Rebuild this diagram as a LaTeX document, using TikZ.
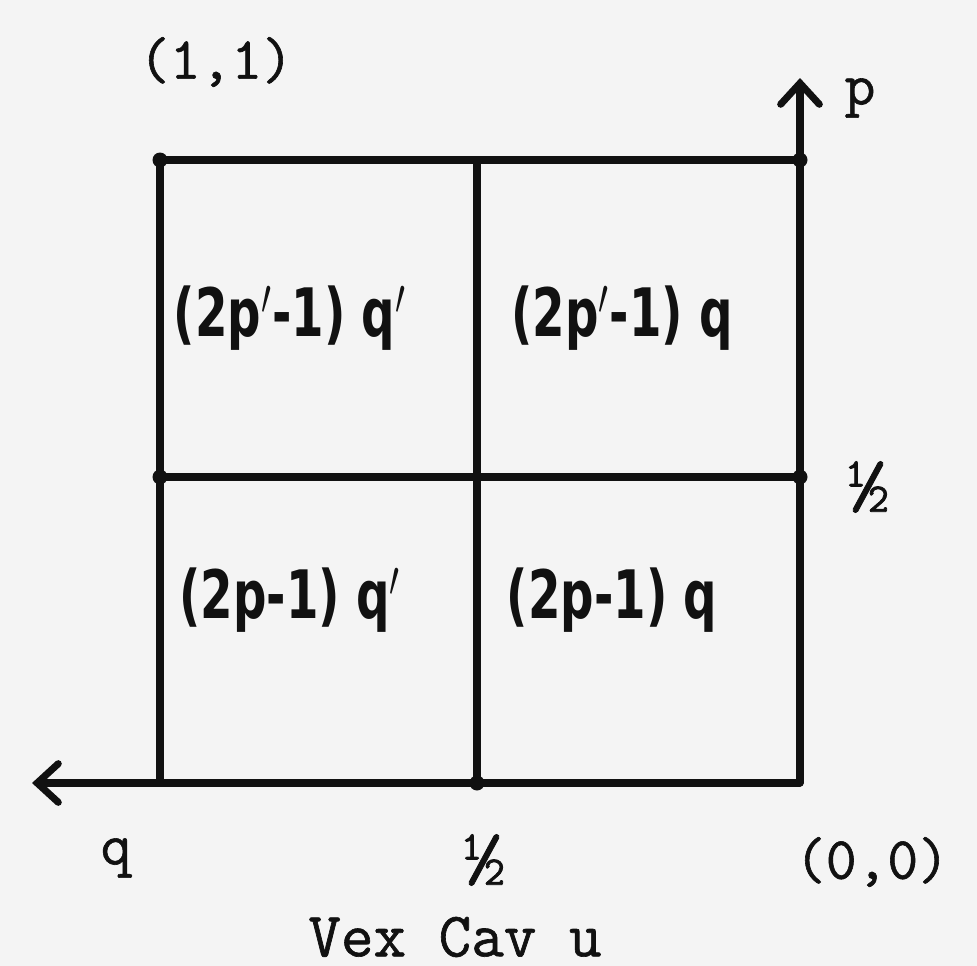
\documentclass[tikz,border=0pt]{standalone}
\usepackage{fontspec}
\usepackage{graphicx}
\usepackage{tikz}
\usetikzlibrary{arrows.meta}
\newfontfamily\handfont{DejaVu Sans}
\newfontfamily\typefont[FakeBold=1]{Latin Modern Mono}
\definecolor{Ink}{HTML}{111111}
\definecolor{Paper}{HTML}{F4F4F4}

\tikzset{
  frame/.style={Ink,line width=2pt,line cap=round},
  axis/.style={frame,-{Straight Barb[length=6pt,width=11pt,line cap=round]}},
  tt/.style={Ink,font=\typefont\fontsize{17}{20}\selectfont,inner sep=0pt},
  half/.style={tt,font=\typefont\fontsize{23}{24}\selectfont},
  hand/.style={Ink,font=\handfont\bfseries\fontsize{19}{22}\selectfont,inner sep=0pt}
}
\newcommand{\narrow}[1]{\scalebox{0.7}[1]{#1}}

\begin{document}
\begin{tikzpicture}[x=0.1mm,y=-0.1mm]
    \useasboundingbox[fill=Paper] (0,0) rectangle (977,966);
    % square and its midlines
    \coordinate (nw) at (160,160);
    \coordinate (nc) at (477,160);
    \coordinate (ne) at (800,160);
    \coordinate (wm) at (160,477);
    \coordinate (em) at (800,477);
    \coordinate (sw) at (160,783);
    \coordinate (sc) at (477,783);
    \coordinate (origin) at (800,783);
    \coordinate (ptip) at (800,78);
    \coordinate (qtip) at (32,783);

    \draw[frame] (nw) -- (ne);
    \draw[frame] (wm) -- (em);
    \draw[frame] (nw) -- (sw);
    \draw[frame] (nc) -- (sc);
    \draw[axis] (origin) -- (ptip);
    \draw[axis] (origin) -- (qtip);
    \foreach \pt in {nw,ne,wm,em,sc}
      \fill[Ink] (\pt) circle (0.75mm);

    % axis labels
    \node[tt] (oneone) at (216,62) {(1,1)};
    \node[tt] (plab) at (860,98) {p};
    \node[half] (phalf) at (868,487) {\textonehalf};
    \node[tt] (qlab) at (116,858) {q};
    \node[half] (qhalf) at (484,860) {\textonehalf};
    \node[tt] (zero) at (872,862) {(0,0)};
    \node[tt,font=\typefont\fontsize{18}{20}\selectfont] (caption) at (455,937) {Vex Cav u};

    % payoffs in the four cells
    \node[hand] (ul) at (290,318) {\narrow{(2p$'$-1) q$'$}};
    \node[hand] (ur) at (622,318) {\narrow{(2p$'$-1) q}};
    \node[hand] (ll) at (290,600) {\narrow{(2p-1) q$'$}};
    \node[hand] (lr) at (612,600) {\narrow{(2p-1) q}};
\end{tikzpicture}
\end{document}
